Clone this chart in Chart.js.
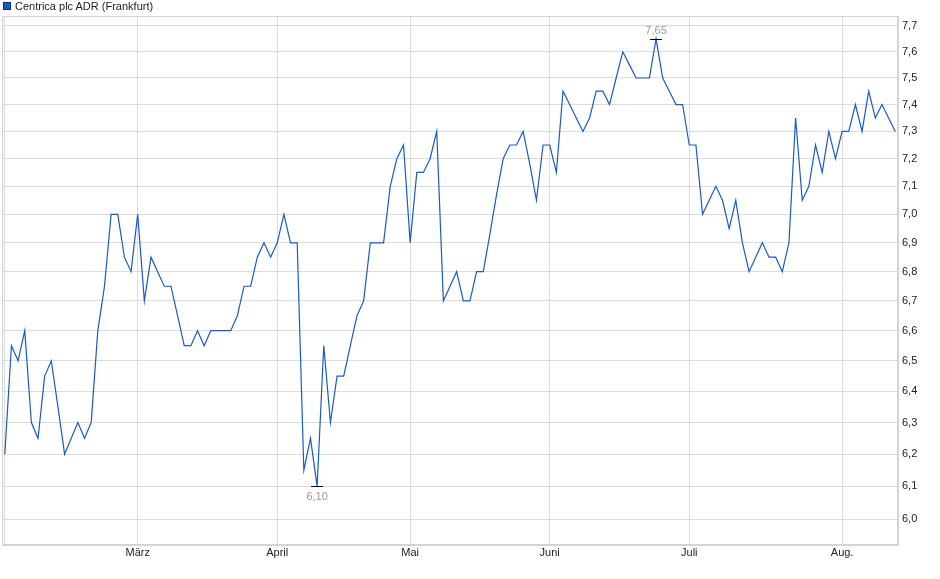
<!DOCTYPE html>
<html><head><meta charset="utf-8">
<script src="https://cdn.jsdelivr.net/npm/chart.js@4.4.1/dist/chart.umd.min.js"></script>
<style>
html,body{margin:0;padding:0;background:#fff;}
#wrap{position:relative;width:940px;height:579px;}
#legend{position:absolute;left:3px;top:0px;font:11px "Liberation Sans",Arial,sans-serif;color:#222;line-height:13px;white-space:nowrap;}
#legend .box{display:inline-block;width:6px;height:6px;background:#1a5ac8;border:1px solid #0b2e73;margin-right:4px;vertical-align:0px;}
</style></head><body>
<div id="wrap"><canvas id="c" width="940" height="579"></canvas><div id="legend"><span class="box"></span>Centrica plc ADR (Frankfurt)</div></div>
<script>
const seriesName = 'Centrica plc ADR (Frankfurt)';
const prices = [
  6.2, 6.55, 6.5, 6.6, 6.3, 6.25, 6.45, 6.5, 6.35, 6.2,
  6.25, 6.3, 6.25, 6.3, 6.6, 6.75, 7.0, 7.0, 6.85, 6.8,
  7.0, 6.7, 6.85, 6.8, 6.75, 6.75, 6.65, 6.55, 6.55, 6.6,
  6.55, 6.6, 6.6, 6.6, 6.6, 6.65, 6.75, 6.75, 6.85, 6.9,
  6.85, 6.9, 7.0, 6.9, 6.9, 6.15, 6.25, 6.1, 6.55, 6.3,
  6.45, 6.45, 6.55, 6.65, 6.7, 6.9, 6.9, 6.9, 7.1, 7.2,
  7.25, 6.9, 7.15, 7.15, 7.2, 7.3, 6.7, 6.75, 6.8, 6.7,
  6.7, 6.8, 6.8, 6.93, 7.07, 7.2, 7.25, 7.25, 7.3, 7.18,
  7.05, 7.25, 7.25, 7.15, 7.45, 7.4, 7.35, 7.3, 7.35, 7.45,
  7.45, 7.4, 7.5, 7.6, 7.55, 7.5, 7.5, 7.5, 7.65, 7.5,
  7.45, 7.4, 7.4, 7.25, 7.25, 7.0, 7.05, 7.1, 7.05, 6.95,
  7.05, 6.9, 6.8, 6.85, 6.9, 6.85, 6.85, 6.8, 6.9, 7.35,
  7.05, 7.1, 7.25, 7.15, 7.3, 7.2, 7.3, 7.3, 7.4, 7.3,
  7.45, 7.35, 7.4, 7.35, 7.3
];
const monthLabels = ['', 'März', 'April', 'Mai', 'Juni', 'Juli', 'Aug.'];
const monthStartIndex = [0, 20, 41, 61, 82, 103, 126];
const yTickValues = [6.0, 6.1, 6.2, 6.3, 6.4, 6.5, 6.6, 6.7, 6.8, 6.9, 7.0, 7.1, 7.2, 7.3, 7.4, 7.5, 7.6, 7.7];

const FONT = '"Liberation Sans", Arial, sans-serif';
const fmt = (v, d) => v.toFixed(d).replace('.', ',');

const frame = {
  id: 'frame',
  beforeDatasetsDraw(chart) {
    const a = chart.chartArea, ctx = chart.ctx;
    ctx.save();
    ctx.strokeStyle = '#d4d4d4';
    ctx.lineWidth = 1;
    ctx.strokeRect(Math.round(a.left) + 0.5, Math.round(a.top) + 0.5, Math.round(a.right - a.left) - 1, Math.round(a.bottom - a.top) - 1);
    ctx.restore();
  }
};

const extremes = {
  id: 'extremes',
  afterDatasetsDraw(chart) {
    const meta = chart.getDatasetMeta(0);
    let iMax = 0, iMin = 0;
    prices.forEach((v, i) => { if (v > prices[iMax]) iMax = i; if (v < prices[iMin]) iMin = i; });
    const ctx = chart.ctx;
    ctx.save();
    ctx.font = '11px ' + FONT;
    ctx.textAlign = 'center';
    [[iMax, true], [iMin, false]].forEach(([i, top]) => {
      const el = meta.data[i];
      const x = el.x, y = Math.round(el.y) + 0.5;
      ctx.strokeStyle = '#000';
      ctx.lineWidth = 1;
      ctx.beginPath(); ctx.moveTo(x - 6, y); ctx.lineTo(x + 6, y); ctx.stroke();
      ctx.fillStyle = '#9a9a9a';
      if (top) { ctx.textBaseline = 'bottom'; ctx.fillText(fmt(prices[i], 2), x, y - 3); }
      else { ctx.textBaseline = 'top'; ctx.fillText(fmt(prices[i], 2), x, y + 5); }
    });
    ctx.restore();
  }
};

new Chart(document.getElementById('c'), {
  type: 'line',
  data: {
    datasets: [{
      label: seriesName,
      data: prices.map((v, i) => ({ x: i, y: v })),
      borderColor: '#1a5ac8',
      borderWidth: 1.2,
      pointRadius: 0,
      tension: 0,
      fill: false
    }]
  },
  options: {
    responsive: false,
    animation: false,
    devicePixelRatio: 1,
    layout: { padding: { left: 2, top: 16, right: 0, bottom: 0 } },
    plugins: { legend: { display: false }, tooltip: { enabled: false } },
    scales: {
      x: {
        type: 'linear',
        min: -0.42,
        max: 134.41,
        afterBuildTicks(scale) { scale.ticks = monthStartIndex.map(v => ({ value: v })); },
        afterFit(scale) { scale.height = 34; },
        ticks: {
          autoSkip: false, maxRotation: 0, padding: 1,
          color: '#222', font: { family: FONT, size: 11 },
          callback: (v, i) => monthLabels[i]
        },
        grid: { color: '#dcdcdc', drawTicks: false },
        border: { color: '#d4d4d4' }
      },
      y: {
        type: 'logarithmic',
        position: 'right',
        min: 5.9216,
        max: 7.739,
        afterBuildTicks(scale) { scale.ticks = yTickValues.map(v => ({ value: v })); },
        afterFit(scale) { scale.width = 42; },
        ticks: {
          autoSkip: false, padding: 4,
          color: '#222', font: { family: FONT, size: 11 },
          callback: (v) => fmt(v, 1)
        },
        grid: { color: '#dcdcdc', drawTicks: false },
        border: { color: '#d4d4d4' }
      }
    }
  },
  plugins: [frame, extremes]
});
</script>
</body></html>
